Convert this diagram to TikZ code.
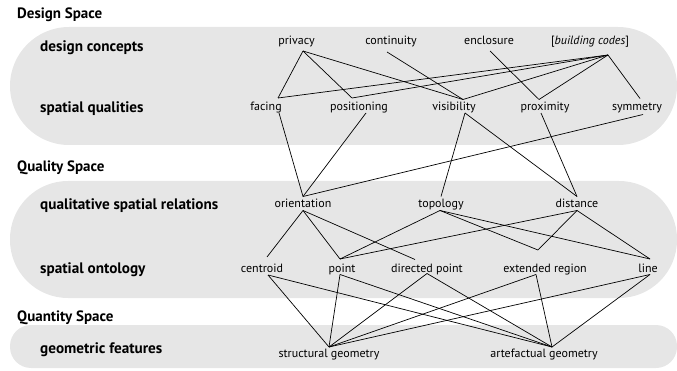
\documentclass[tikz,border=0pt]{standalone}
\usepackage{fontspec}
\setmainfont{PT Sans}
\usetikzlibrary{calc}
\definecolor{bandgray}{RGB}{230,230,230}
\begin{document}
\begin{tikzpicture}[x=1pt,y=-1pt,
  lbl/.style={inner sep=0pt, anchor=base, font=\fontsize{12}{13}\selectfont},
  rowlbl/.style={inner sep=0pt, anchor=base west, font=\fontsize{15.2}{17}\selectfont\bfseries},
  sectitle/.style={inner sep=0pt, anchor=base west, font=\fontsize{15}{17}\selectfont\bfseries},
  link/.style={line width=0.7pt, black}]
\useasboundingbox (0,0) rectangle (677,371);
% bands
\fill[bandgray, rounded corners=59pt] (10,27) rectangle (677,145);
\fill[bandgray, rounded corners=58pt] (10,181) rectangle (677,298);
\fill[bandgray, rounded corners=21pt] (10,325) rectangle (677,368);
% section titles
\node[sectitle] (t1) at (17,18.3) {Design Space};
\node[sectitle] (t2) at (17,172) {Quality Space};
\node[sectitle] (t3) at (17,321) {Quantity Space};
% row labels
\node[rowlbl] (r1) at (40,51.7) {design concepts};
\node[rowlbl] (r2) at (40,112.3) {spatial qualities};
\node[rowlbl] (r3) at (40,210) {qualitative spatial relations};
\node[rowlbl] (r4) at (40,273.5) {spatial ontology};
\node[rowlbl] (r5) at (40,353) {geometric features};
% nodes
\node[lbl] (privacy) at (296.5,45) {privacy};
\node[lbl] (continuity) at (391,45) {continuity};
\node[lbl] (enclosure) at (489,45) {enclosure};
\node[lbl] (bc) at (590,45) {[\textit{building codes}]};
\node[lbl] (facing) at (266,110.5) {facing};
\node[lbl] (positioning) at (359,110.5) {positioning};
\node[lbl] (visibility) at (454,110.5) {visibility};
\node[lbl] (proximity) at (545,110.5) {proximity};
\node[lbl] (symmetry) at (637,110.5) {symmetry};
\node[lbl] (orientation) at (303,208) {orientation};
\node[lbl] (topology) at (441,208) {topology};
\node[lbl] (distance) at (577,208) {distance};
\node[lbl] (centroid) at (262,272.5) {centroid};
\node[lbl] (point) at (342,272.5) {point};
\node[lbl] (dpoint) at (427,272.5) {directed point};
\node[lbl] (ext) at (545,272.5) {extended region};
\node[lbl] (line) at (648,272.5) {line};
\node[lbl] (struct) at (329,357.5) {structural geometry};
\node[lbl] (arte) at (544,357.5) {artefactual geometry};
% attach points
\coordinate (privacy-s) at ($(privacy.base)+(6.5,6)$);
\coordinate (continuity-s) at ($(continuity.base)+(-4,7)$);
\coordinate (enclosure-s) at ($(enclosure.base)+(1,6)$);
\coordinate (bc-s) at ($(bc.base)+(18,10)$);
\coordinate (facing-n) at ($(facing.base)+(12,-12.5)$);
\coordinate (facing-s) at ($(facing.base)+(13,2.5)$);
\coordinate (positioning-n) at ($(positioning.base)+(-7,-12.5)$);
\coordinate (positioning-s) at ($(positioning.base)+(7,2.5)$);
\coordinate (visibility-n) at ($(visibility.base)+(9,-11)$);
\coordinate (visibility-s) at ($(visibility.base)+(11,2.5)$);
\coordinate (proximity-n) at ($(proximity.base)+(-6,-11)$);
\coordinate (proximity-s) at ($(proximity.base)+(-4,2.5)$);
\coordinate (symmetry-n) at ($(symmetry.base)+(3,-12)$);
\coordinate (symmetry-s) at ($(symmetry.base)+(6,4)$);
\coordinate (orientation-n) at ($(orientation.base)+(0,-11.5)$);
\coordinate (orientation-s) at ($(orientation.base)+(0,2.5)$);
\coordinate (topology-n) at ($(topology.base)+(0,-11.5)$);
\coordinate (topology-s) at ($(topology.base)+(-1,2.5)$);
\coordinate (distance-n) at ($(distance.base)+(0,-11.5)$);
\coordinate (distance-s) at ($(distance.base)+(0,2.5)$);
\coordinate (centroid-n) at ($(centroid.base)+(5,-15.5)$);
\coordinate (centroid-s) at ($(centroid.base)+(6,2.5)$);
\coordinate (point-n) at ($(point.base)+(-2,-13.5)$);
\coordinate (point-s) at ($(point.base)+(-2,2)$);
\coordinate (dpoint-n) at ($(dpoint.base)+(-12,-13)$);
\coordinate (dpoint-s) at ($(dpoint.base)+(0,1)$);
\coordinate (ext-n) at ($(ext.base)+(-7,-22.5)$);
\coordinate (ext-s) at ($(ext.base)+(-9,2)$);
\coordinate (line-n) at ($(line.base)+(2,-13.5)$);
\coordinate (line-s) at ($(line.base)+(2,2)$);
\coordinate (struct-n) at ($(struct.base)+(0,-10.5)$);
\coordinate (arte-n) at ($(arte.base)+(8,-10.5)$);
% connectors: design concepts -> spatial qualities
\draw[link] (privacy-s) -- (facing-n);
\draw[link] (privacy-s) -- (positioning-n);
\draw[link] (privacy-s) -- (visibility-n);
\draw[link] (continuity-s) -- (visibility-n);
\draw[link] (enclosure-s) -- (proximity-n);
\draw[link] (bc-s) -- (facing-n);
\draw[link] (bc-s) -- (positioning-n);
\draw[link] (bc-s) -- (visibility-n);
\draw[link] (bc-s) -- (proximity-n);
\draw[link] (bc-s) -- (symmetry-n);
% spatial qualities -> qualitative spatial relations
\draw[link] (facing-s) -- (orientation-n);
\draw[link] (positioning-s) -- (orientation-n);
\draw[link] (symmetry-s) -- (orientation-n);
\draw[link] (visibility-s) -- (topology-n);
\draw[link] (visibility-s) -- (distance-n);
\draw[link] (proximity-s) -- (distance-n);
% relations -> ontology
\draw[link] (orientation-s) -- (centroid-n);
\draw[link] (orientation-s) -- (point-n);
\draw[link] (orientation-s) -- (dpoint-n);
\draw[link] (topology-s) -- (point-n);
\draw[link] (topology-s) -- (ext-n);
\draw[link] (topology-s) -- (line-n);
\draw[link] (distance-s) -- (point-n);
\draw[link] (distance-s) -- (ext-n);
\draw[link] (distance-s) -- (line-n);
% ontology -> geometric features
\foreach \o in {centroid,point,dpoint,ext,line}{
  \draw[link] (\o-s) -- (struct-n);
  \draw[link] (\o-s) -- (arte-n);
}
\end{tikzpicture}
\end{document}
